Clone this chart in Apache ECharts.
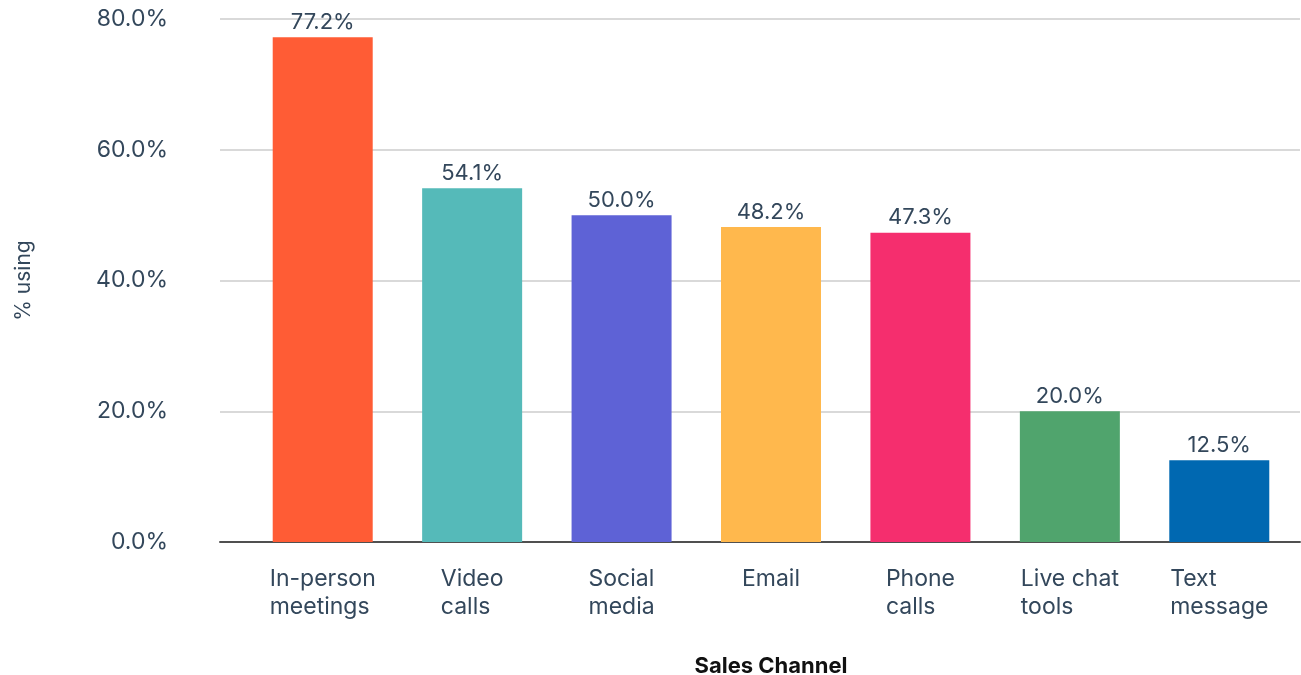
<!DOCTYPE html>
<html>
<head>
<meta charset="utf-8">
<script src="https://cdn.jsdelivr.net/npm/echarts@6/dist/echarts.min.js"></script>
<style>
  html, body { margin: 0; padding: 0; background: #fff; }
  #chart { width: 1301px; height: 675px; }
</style>
</head>
<body>
<div id="chart"></div>
<script>
// Sales channels and share of respondents using each
const categories = ['In-person\nmeetings', 'Video\ncalls', 'Social\nmedia', 'Email', 'Phone\ncalls', 'Live chat\ntools', 'Text\nmessage'];
const values = [77.2, 54.1, 50.0, 48.2, 47.3, 20.0, 12.5];
const barColors = ['#FF5C35', '#55BAB9', '#5E62D6', '#FFB84D', '#F52E6E', '#50A46D', '#0068B1'];
const yTicks = { min: 0, max: 80, interval: 20 };

const FONT = 'Inter, "Noto Sans", sans-serif';
const TEXT = '#33475B';

const chart = echarts.init(document.getElementById('chart'));

const gridTop = 19, gridBottom = 133;

chart.setOption({
  animation: false,
  textStyle: { fontFamily: FONT },
  grid: [
    // frame grid: gridlines, y labels and baseline span the full width
    { left: 220, right: 1, top: gridTop, bottom: gridBottom, outerBoundsMode: 'none', containLabel: false },
    // bar grid: category bands
    { left: 248, right: 7, top: gridTop, bottom: gridBottom, outerBoundsMode: 'none', containLabel: false }
  ],
  xAxis: [
    {
      gridIndex: 0, type: 'value', min: 0, max: 1,
      axisLine: { show: true, lineStyle: { color: '#505050', width: 2 } },
      axisTick: { show: false }, axisLabel: { show: false }, splitLine: { show: false }
    },
    {
      gridIndex: 1, type: 'category', data: categories,
      axisLine: { show: false }, axisTick: { show: false },
      axisLabel: {
        margin: 23, interval: 0,
        formatter: v => v.split('\n').map(s => '{a|' + s + '}').join('\n'),
        rich: { a: { align: 'left', fontSize: 23, lineHeight: 28, color: TEXT, fontFamily: FONT } }
      },
      name: 'Sales Channel', nameLocation: 'middle', nameGap: 113,
      nameTextStyle: { fontSize: 22, fontWeight: 'bold', color: '#111', fontFamily: FONT }
    }
  ],
  yAxis: [
    {
      gridIndex: 0, type: 'value', min: yTicks.min, max: yTicks.max, interval: yTicks.interval,
      axisLine: { show: false }, axisTick: { show: false },
      axisLabel: { formatter: v => v.toFixed(1) + '%', fontSize: 23, color: TEXT, margin: 52, align: 'right' },
      splitLine: { lineStyle: { color: '#D9D9D9', width: 2 } },
      name: '% using', nameLocation: 'middle', nameGap: 186, nameRotate: 90,
      nameTextStyle: { fontSize: 21, color: TEXT, fontFamily: FONT }
    },
    {
      gridIndex: 1, type: 'value', min: yTicks.min, max: yTicks.max, interval: yTicks.interval,
      show: false
    }
  ],
  series: [{
    type: 'bar',
    xAxisIndex: 1, yAxisIndex: 1,
    barWidth: 100,
    data: values.map((v, i) => ({ value: v, itemStyle: { color: barColors[i] } })),
    label: {
      show: true, position: 'top', distance: 4,
      formatter: p => p.value.toFixed(1) + '%',
      fontSize: 22, color: TEXT, fontFamily: FONT
    }
  }]
});
</script>
</body>
</html>
